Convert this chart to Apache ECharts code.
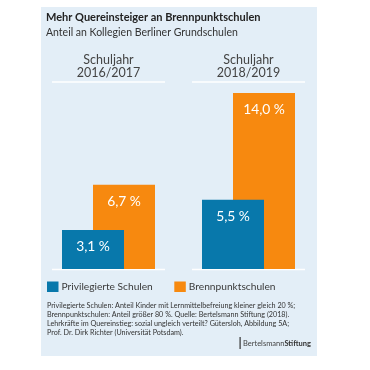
<!DOCTYPE html>
<html><head><meta charset="utf-8">
<script src="https://cdn.jsdelivr.net/npm/echarts@6/dist/echarts.min.js"></script>
<style>html,body{margin:0;padding:0;background:#fff}#c{width:370px;height:370px}</style>
</head><body><div id="c"></div>
<script>
const years = ['2016/2017', '2018/2019'];
const privilegiert = [3.1, 5.5];
const brennpunkt = [6.7, 14.0];
const seriesNames = ['Privilegierte Schulen', 'Brennpunktschulen'];
const footnote = [
  'Privilegierte Schulen: Anteil Kinder mit Lernmittelbefreiung kleiner gleich 20 %;',
  'Brennpunktschulen: Anteil größer 80 %. Quelle: Bertelsmann Stiftung (2018).',
  'Lehrkräfte im Quereinstieg: sozial ungleich verteilt? Gütersloh, Abbildung 5A;',
  'Prof. Dr. Dirk Richter (Universität Potsdam).'
];

const FONT = 'Lato';
const BLUE = '#0878ab', ORANGE = '#f7890f';
const fmt = p => p.value.toFixed(1).replace('.', ',') + ' %';
const chart = echarts.init(document.getElementById('c'));
const lbl = {show: true, position: 'insideTop', distance: 10, color: '#fff', fontFamily: FONT, fontSize: 13.8, formatter: fmt};
chart.setOption({
  animation: false,
  textStyle: {fontFamily: FONT},
  title: {
    text: 'Mehr Quereinsteiger an Brennpunktschulen',
    subtext: 'Anteil an Kollegien Berliner Grundschulen',
    left: 46, top: 12, padding: 0, itemGap: 4,
    textStyle: {fontFamily: FONT, fontSize: 11, fontWeight: 'bold', color: '#222'},
    subtextStyle: {fontFamily: FONT, fontSize: 10.5, color: '#333'}
  },
  legend: {
    left: 47, top: 281.5, padding: 0, itemGap: 21.5, itemWidth: 11.5, itemHeight: 10.5,
    icon: 'rect', textStyle: {fontFamily: FONT, fontSize: 10.2, color: '#3a3a3a', padding: [0,0,0,-2]},
    data: seriesNames
  },
  grid: {left: 38.5, right: 51.5, top: 93, bottom: 101},
  xAxis: {
    type: 'category', position: 'top', data: years,
    axisLine: {show: false}, axisTick: {show: false},
    axisLabel: {formatter: v => 'Schuljahr\n' + v, fontFamily: FONT, fontSize: 12.5, lineHeight: 13, color: '#444', margin: 14}
  },
  yAxis: {type: 'value', min: 0, max: 14, show: false, splitLine: {show: false}},
  series: [
    {name: seriesNames[0], type: 'bar', data: privilegiert, barWidth: 62, barGap: '-50%', z: 4,
     itemStyle: {color: BLUE}, label: lbl},
    {name: seriesNames[1], type: 'bar', data: brennpunkt, barWidth: 62, z: 2,
     itemStyle: {color: ORANGE}, label: lbl}
  ]
});

// decoration: panel, white rules under headers and at baseline, footnote, logo
const g = [{type: 'rect', z: -10, shape: {x: 41, y: 7, width: 276, height: 349}, style: {fill: '#e3eef7'}}];
const base = chart.convertToPixel({yAxisIndex: 0}, 0);
years.forEach((y, i) => {
  const cx = chart.convertToPixel({xAxisIndex: 0}, i);
  [82, base + 0.5].forEach(yy => g.push({type: 'line', z: 1, shape: {x1: cx - 56.5, y1: yy, x2: cx + 56.5, y2: yy}, style: {stroke: '#fff', lineWidth: 1.5}}));
});
g.push({type: 'text', left: 47, top: 301.5, style: {text: footnote.join('\n'), fontFamily: FONT, fontSize: 7.2, lineHeight: 8.8, fill: '#333'}});
g.push({type: 'rect', shape: {x: 239.5, y: 337, width: 1.2, height: 12}, style: {fill: '#333'}});
g.push({type: 'text', left: 243, top: 339.5, style: {text: '{a|Bertelsmann}{b|Stiftung}', rich: {a: {fontFamily: FONT, fontSize: 7.5, fill: '#444'}, b: {fontFamily: FONT, fontSize: 7.5, fontWeight: 'bold', fill: '#333'}}}});
chart.setOption({graphic: g});
</script></body></html>
